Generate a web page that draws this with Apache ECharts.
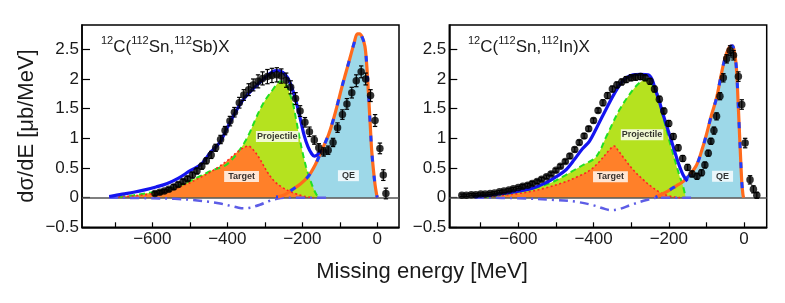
<!DOCTYPE html>
<html><head><meta charset="utf-8">
<script src="https://cdn.jsdelivr.net/npm/echarts@6/dist/echarts.min.js"></script>
<style>html,body{margin:0;padding:0;background:#fff}#c{width:785px;height:303px}</style>
</head><body><div id="c"></div>
<script>
// ---------- data: left panel 12C(112Sn,112Sb)X ----------
const sbDataE = [-593,-580,-568,-556,-543,-531,-518,-506,-493,-481,-468,-456,-443,-431,-418,-406,-393,-381,-368,-356,-343,-331,-318,-306,-293,-281,-268,-256,-243,-231,-218,-206,-193,-181,-168,-156,-143,-131,-118,-106,-93,-81,-68,-56,-43,-31,-18,-6,7,16,23];
const sbDataV = [0.07,0.09,0.11,0.14,0.18,0.22,0.27,0.32,0.38,0.45,0.53,0.62,0.72,0.84,0.98,1.13,1.29,1.44,1.60,1.73,1.82,1.90,1.96,2.01,2.04,2.06,2.07,2.05,1.98,1.86,1.67,1.46,1.27,1.11,0.97,0.84,0.77,0.80,0.93,1.18,1.40,1.58,1.77,1.97,2.12,2.00,1.72,1.30,0.83,0.38,0.07];
const sbDataErr = [0.03,0.03,0.03,0.03,0.04,0.04,0.04,0.04,0.05,0.05,0.05,0.05,0.06,0.06,0.07,0.07,0.08,0.08,0.09,0.09,0.10,0.10,0.11,0.11,0.12,0.12,0.12,0.12,0.12,0.11,0.10,0.09,0.08,0.08,0.07,0.07,0.07,0.07,0.07,0.08,0.08,0.09,0.09,0.10,0.10,0.10,0.10,0.10,0.09,0.09,0.09];

const sbTotalE = [-715,-680,-650,-620,-590,-560,-530,-500,-470,-445,-420,-400,-380,-360,-340,-320,-300,-285,-270,-258,-245,-235,-225,-215,-205,-195,-185,-175,-168,-160,-150];
const sbTotalV = [0.02,0.06,0.09,0.13,0.18,0.24,0.33,0.45,0.56,0.76,0.93,1.18,1.42,1.63,1.78,1.90,2.02,2.10,2.14,2.13,2.07,1.97,1.80,1.58,1.32,1.05,0.86,0.74,0.70,0.72,0.80];

const sbProjE = [-715,-680,-650,-620,-590,-560,-530,-500,-470,-440,-406,-385,-370,-355,-340,-325,-310,-295,-280,-268,-259,-250,-242,-233,-224,-216,-208,-200,-190,-179,-170,-162,-155];
const sbProjV = [0.01,0.02,0.04,0.07,0.10,0.14,0.20,0.28,0.37,0.46,0.54,0.66,0.78,0.92,1.10,1.32,1.52,1.68,1.81,1.91,1.96,1.95,1.90,1.75,1.56,1.30,1.03,0.78,0.52,0.30,0.15,0.05,0.0];

const sbTargE = [-715,-680,-650,-620,-590,-560,-530,-504,-478,-451,-425,-397,-375,-360,-344,-330,-317,-305,-291,-275,-255,-235,-219,-200,-184,-170];
const sbTargV = [0.01,0.02,0.03,0.05,0.08,0.13,0.18,0.24,0.32,0.41,0.51,0.64,0.76,0.83,0.87,0.80,0.69,0.56,0.41,0.28,0.18,0.11,0.07,0.03,0.01,0.0];

const sbQeE = [-270,-250,-228,-205,-184,-165,-148,-130,-117,-105,-95,-84,-73,-62,-53,-47,-40,-33,-28,-24,-19,-15,-10,-6,-2,0];
const sbQeV = [0.01,0.04,0.13,0.23,0.36,0.56,0.80,1.06,1.32,1.60,1.85,2.10,2.35,2.60,2.76,2.76,2.70,2.55,2.22,1.80,1.25,0.80,0.45,0.22,0.06,0.0];

const sbIntE = [-715,-600,-540,-491,-450,-419,-390,-370,-357,-340,-313,-290,-268,-240,-130];
const sbIntV = [0,-0.01,-0.02,-0.04,-0.07,-0.10,-0.14,-0.17,-0.18,-0.17,-0.12,-0.06,-0.02,0,0];

// ---------- data: right panel 12C(112Sn,112In)X ----------
const inDataE = [-750,-738,-725,-713,-700,-688,-675,-663,-650,-638,-625,-613,-600,-588,-575,-563,-550,-538,-525,-513,-500,-488,-475,-463,-450,-438,-425,-413,-400,-388,-375,-363,-350,-338,-325,-313,-300,-288,-275,-263,-250,-238,-225,-213,-200,-188,-175,-163,-150,-138,-125,-113,-104,-95,-88,-80,-73,-64,-55,-46,-37,-28,-15,-6,3,16,25,34];
const inDataV = [0.04,0.04,0.05,0.05,0.06,0.06,0.07,0.08,0.10,0.11,0.13,0.15,0.17,0.19,0.21,0.24,0.27,0.31,0.35,0.40,0.46,0.53,0.61,0.70,0.81,0.93,1.04,1.16,1.30,1.47,1.60,1.72,1.83,1.90,1.95,1.99,2.02,2.03,2.04,2.02,1.96,1.83,1.66,1.46,1.25,1.03,0.84,0.66,0.51,0.40,0.36,0.42,0.55,0.75,0.95,1.13,1.37,1.71,2.02,2.34,2.48,2.40,2.04,1.57,0.92,0.30,0.14,0.04];
const inDataErr = [0.02,0.02,0.02,0.02,0.02,0.02,0.02,0.02,0.02,0.02,0.02,0.02,0.02,0.03,0.03,0.03,0.03,0.03,0.03,0.03,0.03,0.03,0.03,0.04,0.04,0.04,0.04,0.04,0.04,0.04,0.05,0.05,0.05,0.05,0.05,0.05,0.05,0.05,0.05,0.05,0.05,0.05,0.05,0.05,0.05,0.05,0.05,0.05,0.05,0.05,0.05,0.05,0.05,0.05,0.05,0.06,0.06,0.06,0.07,0.07,0.08,0.08,0.08,0.08,0.08,0.07,0.06,0.05];

const inTotalE = [-720,-680,-640,-600,-562,-530,-500,-473,-450,-430,-411,-390,-366,-345,-322,-295,-275,-255,-245,-237,-225,-215,-195,-179,-166,-157,-150];
const inTotalV = [0.02,0.04,0.07,0.11,0.16,0.24,0.35,0.47,0.65,0.82,0.95,1.20,1.50,1.75,1.97,2.07,2.08,2.07,2.00,1.85,1.62,1.40,1.00,0.67,0.44,0.33,0.28];

const inProjE = [-715,-680,-650,-606,-560,-517,-480,-450,-428,-393,-366,-331,-295,-275,-259,-246,-233,-220,-206,-195,-184,-173,-162,-155];
const inProjV = [0.01,0.02,0.04,0.09,0.16,0.24,0.36,0.47,0.55,0.69,1.03,1.48,1.82,1.95,2.00,1.92,1.80,1.48,1.14,0.88,0.64,0.40,0.19,0.0];

const inTargE = [-715,-680,-640,-600,-571,-530,-482,-440,-410,-384,-357,-345,-335,-322,-295,-264,-245,-224,-205,-185,-170];
const inTargV = [0.01,0.02,0.04,0.07,0.10,0.16,0.25,0.36,0.46,0.61,0.81,0.87,0.80,0.69,0.47,0.28,0.18,0.09,0.04,0.01,0.0];

const inQeE = [-235,-224,-200,-180,-162,-145,-126,-113,-100,-87,-73,-64,-55,-46,-37,-31,-27,-22,-19,-16,-13,-10,-6,-3,-1];
const inQeV = [0.01,0.04,0.12,0.20,0.27,0.38,0.55,0.78,1.06,1.38,1.68,1.96,2.24,2.44,2.55,2.56,2.50,2.30,2.07,1.65,1.23,0.80,0.27,0.06,0.0];

const inIntE = [-715,-600,-500,-446,-400,-370,-353,-330,-300,-259,-230,-130];
const inIntV = [0,-0.01,-0.04,-0.07,-0.13,-0.19,-0.21,-0.19,-0.12,-0.04,0,0];

// ---------- labels / ticks ----------
const componentNames = ['Projectile','Target','QE'];
const sbLabelE = [-267,-362,-77];
const sbLabelV = [1.03,0.355,0.37];
const inLabelE = [-271,-355,-57];
const inLabelV = [1.06,0.35,0.36];
const xTickValues = [-700,-600,-500,-400,-300,-200,-100,0];
const xLabelValues = [-600,-400,-200,0];
const yTickValues = [-0.5,0,0.5,1,1.5,2,2.5];
const panelTitles = ['{s|12}C({s|112}Sn,{s|112}Sb)X','{s|12}C({s|112}Sn,{s|112}In)X'];
const yTitle = 'dσ/dE [μb/MeV]';
const xTitle = 'Missing energy [MeV]';

// ---------- build ----------
const FONT = '"Liberation Sans", Arial, Helvetica, sans-serif';
const TXT = '#1a1a1a';
const zip = (a, b) => a.map((v, i) => [v, b[i]]);
const zip3 = (a, b, c) => a.map((v, i) => [v, b[i], c[i]]);
const minus = s => String(s).replace('-', '\u2212');

const grids = [
  {left: 82, top: 25, width: 317, height: 202.3},
  {left: 449.3, top: 25, width: 317.4, height: 202.3}
];
const xr = [[-787.5, 57.9], [-783.4, 60.3]];

function mkX(i) {
  return {
    type: 'value', gridIndex: i, min: xr[i][0], max: xr[i][1],
    axisLine: {show: true, onZero: false, lineStyle: {color: '#000', width: 1.5}},
    axisTick: {show: true, inside: true, length: 5, customValues: xTickValues, lineStyle: {color: '#000', width: 1.2}},
    axisLabel: {customValues: xLabelValues, formatter: v => minus(v), fontSize: 17, fontFamily: FONT, color: TXT, margin: 4},
    splitLine: {show: false}
  };
}
function mkY(i) {
  return {
    type: 'value', gridIndex: i, min: -0.5, max: 2.91,
    axisLine: {show: true, onZero: false, lineStyle: {color: '#000', width: 1.5}},
    axisTick: {show: true, inside: true, length: 8, customValues: yTickValues, lineStyle: {color: '#000', width: 1.2}},
    axisLabel: {customValues: yTickValues, formatter: v => minus(v), fontSize: 17, fontFamily: FONT, color: TXT, margin: 3},
    splitLine: {show: false}
  };
}

function errRender(params, api) {
  const x = api.value(0), y = api.value(1), e = api.value(2);
  const t = api.coord([x, y + e]), b = api.coord([x, y - e]);
  const hw = 2.2, st = {stroke: '#000', lineWidth: 1.2};
  return {type: 'group', children: [
    {type: 'line', shape: {x1: t[0], y1: t[1], x2: b[0], y2: b[1]}, style: st},
    {type: 'line', shape: {x1: t[0] - hw, y1: t[1], x2: t[0] + hw, y2: t[1]}, style: st},
    {type: 'line', shape: {x1: b[0] - hw, y1: b[1], x2: b[0] + hw, y2: b[1]}, style: st}
  ]};
}

function panelSeries(i, d) {
  const ax = {xAxisIndex: i, yAxisIndex: i};
  const base = Object.assign({type: 'line', symbol: 'none', silent: true, animation: false}, ax);
  const s = [];
  // QE fill
  s.push(Object.assign({}, base, {z: 1, smooth: 0.35, data: zip(d.qeE, d.qeV), lineStyle: {width: 0}, areaStyle: {color: '#9dd8e8', opacity: 1}}));
  // Projectile fill
  s.push(Object.assign({}, base, {z: 2, smooth: 0.35, data: zip(d.projE, d.projV), lineStyle: {width: 0}, areaStyle: {color: '#b5e21f', opacity: 1}}));
  // Target fill
  s.push(Object.assign({}, base, {z: 3, smooth: 0.35, data: zip(d.targE, d.targV), lineStyle: {width: 0}, areaStyle: {color: '#ff8029', opacity: 1}}));
  // Projectile outline (green dashed)
  s.push(Object.assign({}, base, {z: 4, smooth: 0.35, data: zip(d.projE, d.projV), lineStyle: {color: '#22e022', width: 2, type: [6, 4]}}));
  // Target outline (red dotted)
  s.push(Object.assign({}, base, {z: 4, smooth: 0.35, data: zip(d.targE, d.targV), lineStyle: {color: '#ff2222', width: 1.6, type: [2, 2.5]}}));
  // interference dash-dot
  s.push(Object.assign({}, base, {z: 5, smooth: 0.35, data: zip(d.intE, d.intV), lineStyle: {color: '#5d5de6', width: 2.5, type: [9, 5, 2, 5]},
    markLine: {silent: true, symbol: 'none', animation: false, label: {show: false}, lineStyle: {color: '#555', width: 1.5, type: 'solid'}, data: [{yAxis: 0}], z: 4}}));
  // QE outline orange
  s.push(Object.assign({}, base, {z: 6, smooth: 0.35, data: zip(d.qeE, d.qeV), lineStyle: {color: '#ff6a1c', width: 3.2}}));
  // QE blue dashes
  s.push(Object.assign({}, base, {z: 7, smooth: 0.35, data: zip(d.qeE, d.qeV), lineStyle: {color: '#1d3cff', width: 3, type: [6, 14], dashOffset: 4}}));
  // total blue
  s.push(Object.assign({}, base, {z: 7, smooth: 0.35, data: zip(d.totE, d.totV), lineStyle: {color: '#1414f0', width: 3.2}}));
  // error bars
  s.push(Object.assign({type: 'custom', silent: true, animation: false, z: 8, renderItem: errRender, encode: {x: 0, y: 1}, data: zip3(d.dE, d.dV, d.dErr)}, ax));
  // data points
  s.push(Object.assign({type: 'scatter', silent: true, animation: false, z: 9, symbol: 'circle', symbolSize: 7.5, itemStyle: {color: '#000'}, data: zip(d.dE, d.dV)}, ax));
  // component labels
  s.push(Object.assign({type: 'scatter', silent: true, animation: false, z: 10, symbolSize: 0,
    data: d.labE.map((e, k) => ({value: [e, d.labV[k]], name: componentNames[k],
      label: {padding: k === 0 ? [1, 1] : [1, 4]}})),
    label: {show: true, position: 'inside', formatter: p => p.name, color: '#000', fontWeight: 'bold', fontSize: 9, fontFamily: FONT, backgroundColor: '#fff', padding: [1, 3]}
  }, ax));
  return s;
}

const series = [].concat(
  panelSeries(0, {dE: sbDataE, dV: sbDataV, dErr: sbDataErr, totE: sbTotalE, totV: sbTotalV, projE: sbProjE, projV: sbProjV, targE: sbTargE, targV: sbTargV, qeE: sbQeE, qeV: sbQeV, intE: sbIntE, intV: sbIntV, labE: sbLabelE, labV: sbLabelV}),
  panelSeries(1, {dE: inDataE, dV: inDataV, dErr: inDataErr, totE: inTotalE, totV: inTotalV, projE: inProjE, projV: inProjV, targE: inTargE, targV: inTargV, qeE: inQeE, qeV: inQeV, intE: inIntE, intV: inIntV, labE: inLabelE, labV: inLabelV})
);

const titleStyle = {fontSize: 17, fontWeight: 'normal', fontFamily: FONT, color: TXT, lineHeight: 24,
  rich: {s: {fontSize: 11, fontFamily: FONT, color: TXT, lineHeight: 10, verticalAlign: 'top'}}};

const chart = echarts.init(document.getElementById('c'), null, {renderer: 'canvas'});
chart.setOption({
  animation: false,
  backgroundColor: '#fff',
  grid: grids.map(g => Object.assign({show: true, borderColor: '#000', borderWidth: 1.5, backgroundColor: 'transparent'}, g)),
  xAxis: [mkX(0), mkX(1)],
  yAxis: [mkY(0), mkY(1)],
  title: [
    {text: panelTitles[0], left: 101, top: 35, padding: 0, textStyle: titleStyle},
    {text: panelTitles[1], left: 468, top: 35, padding: 0, textStyle: titleStyle}
  ],
  graphic: [
    {type: 'text', x: 27, y: 126, rotation: Math.PI / 2, style: {text: yTitle, fontSize: 22, fontFamily: FONT, fill: TXT, align: 'center', verticalAlign: 'middle'}},
    {type: 'text', x: 422, y: 272, style: {text: xTitle, fontSize: 22, fontFamily: FONT, fill: TXT, align: 'center', verticalAlign: 'middle'}}
  ],
  series: series
});
</script></body></html>
